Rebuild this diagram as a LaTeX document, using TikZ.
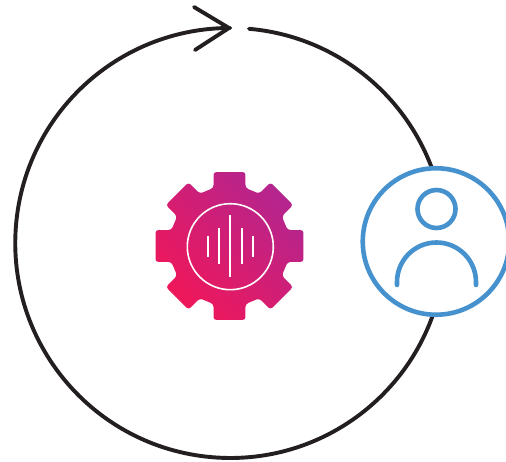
\documentclass[tikz,border=0pt]{standalone}
\definecolor{ink}{HTML}{231F20}
\definecolor{userblue}{HTML}{4592CF}
\definecolor{gearred}{HTML}{F0175A}
\definecolor{gearpurple}{HTML}{B3258F}
\tikzset{
  loopline/.style={draw=ink,line width=3.9pt,line cap=round,line join=round},
  userline/.style={draw=userblue,line width=4.6pt,line cap=round},
  wave/.style={draw=white,line width=1.8pt},
}
\begin{document}
\begin{tikzpicture}[x=1pt,y=1pt]
\useasboundingbox (0,0) rectangle (506,462);
\clip (0,0) rectangle (506,462);
% big loop: centre (230,219), radius 215
\coordinate (tip) at (229,434);
\coordinate (barbA) at (194,455);
\coordinate (barbB) at (195,412);
\draw[loopline] (249,433.2) arc[start angle=85,end angle=-270,radius=215] -- (tip);
\draw[loopline] (barbA) -- (tip) -- (barbB);
% user badge
\node[circle,draw=userblue,fill=white,line width=4.6pt,minimum size=146.5pt,inner sep=0pt] (user) at (436,220.5) {};
\node[circle,userline,minimum size=38pt,inner sep=0pt] (head) at (436.5,253) {};
\coordinate (shoulderL) at (397,177);
\coordinate (shoulderR) at (476,177);
\draw[userline] (shoulderL) -- ++(0,3) arc[start angle=180,end angle=0,radius=39.5] -- (shoulderR);
% gear
\begin{scope}[shift={(229.5,216)}]
\path[rounded corners=3pt,top color=gearpurple,bottom color=gearred,shading angle=-45]
  (105.4:60.2) -- (102.2:75.7) -- (77.8:75.7) -- (74.6:60.2)
  \foreach \a in {45,0,-45,-90,-135,180,135}{
    -- (\a+15.4:60.2) -- (\a+12.2:75.7) -- (\a-12.2:75.7) -- (\a-15.4:60.2)
  } -- cycle;
\end{scope}
\node[circle,draw=white,line width=1.6pt,minimum size=86pt,inner sep=0pt] (dial) at (230.3,215.3) {};
\coordinate (w1t) at (207.7,226); \coordinate (w1b) at (207.7,205.3);
\coordinate (w2t) at (219,234);   \coordinate (w2b) at (219,198);
\coordinate (w3t) at (230.3,247); \coordinate (w3b) at (230.3,185.3);
\coordinate (w4t) at (241.7,234); \coordinate (w4b) at (241.7,198);
\coordinate (w5t) at (253.3,226); \coordinate (w5b) at (253.3,205.3);
\draw[wave] (w1t) -- (w1b);
\draw[wave] (w2t) -- (w2b);
\draw[wave] (w3t) -- (w3b);
\draw[wave] (w4t) -- (w4b);
\draw[wave] (w5t) -- (w5b);
\end{tikzpicture}
\end{document}
